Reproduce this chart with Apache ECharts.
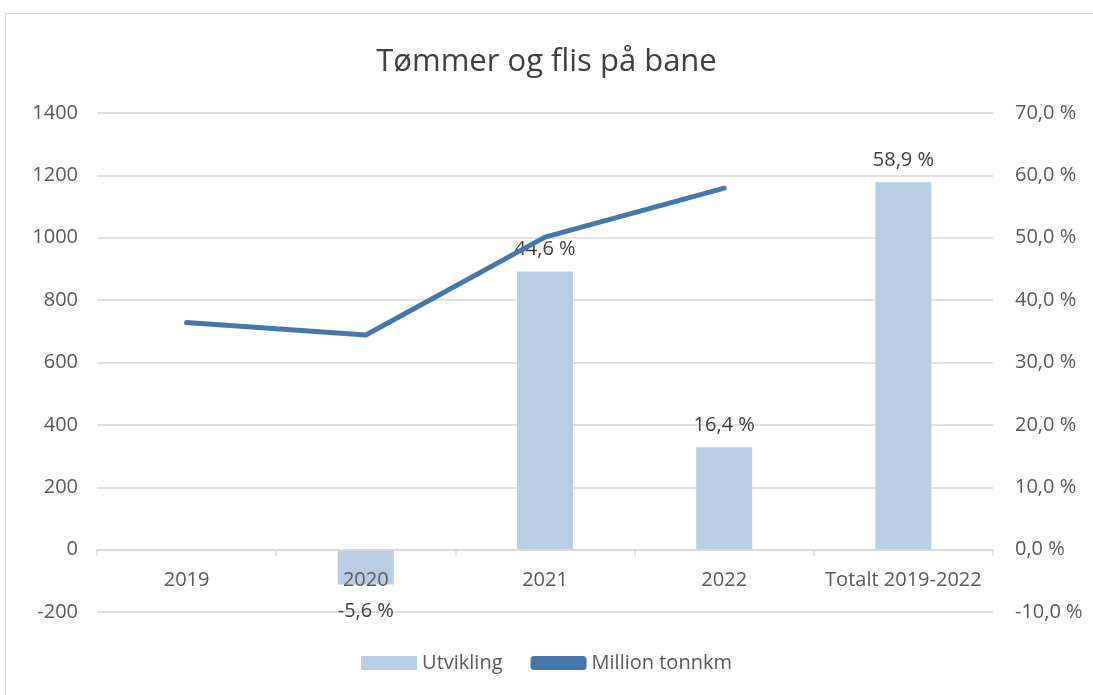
<!DOCTYPE html>
<html>
<head>
<meta charset="utf-8">
<script src="https://cdn.jsdelivr.net/npm/echarts@6/dist/echarts.min.js"></script>
<style>
  html, body { margin: 0; padding: 0; background: #fff; }
  #frame { position: absolute; left: 5px; top: 13px; width: 1100px; height: 700px; border: 1px solid #d9d9d9; box-sizing: border-box; }
  #chart { width: 1093px; height: 695px; position: absolute; left: 0; top: 0; }
</style>
</head>
<body>
<div id="frame"></div>
<div id="chart"></div>
<script>
  // kategorier og verdier lest av figuren
  const categories = ['2019', '2020', '2021', '2022', 'Totalt 2019-2022']
  const utvikling = [null, -5.6, 44.6, 16.4, 58.9]
  const millionTonnkm = [728, 688, 1002, 1159, null]

  const font = '"Open Sans", "Noto Sans", sans-serif'
  const pct = v => v.toFixed(1).replace('.', ',') + ' %'

  const option = {
    animation: false,
    textStyle: { fontFamily: font },
    title: {
      text: 'Tømmer og flis på bane',
      left: 'center',
      top: 42,
      textStyle: { fontFamily: font, fontSize: 31, fontWeight: 'normal', color: '#404040' }
    },
    legend: {
      bottom: 17,
      left: 'center',
      itemGap: 28,
      textStyle: { fontFamily: font, fontSize: 20, color: '#595959' },
      data: [
        { name: 'Utvikling', icon: 'rect', itemWidth: 52, itemHeight: 16 },
        { name: 'Million tonnkm', icon: 'roundRect', itemWidth: 57, itemHeight: 5 }
      ],
      itemWidth: 56,
      itemHeight: 14
    },
    grid: { left: 97, right: 100, top: 113, bottom: 83 },
    xAxis: {
      type: 'category',
      data: categories,
      z: 4,
      axisLine: { onZero: true, onZeroAxisIndex: 0, lineStyle: { color: '#d9d9d9', width: 1.5 } },
      axisTick: { show: true, length: 6, lineStyle: { color: '#d9d9d9', width: 1.5 } },
      // etikettene legges ved nettets underkant, så de flyttes opp til nullinjen
      axisLabel: { color: '#595959', fontSize: 20, margin: -42, interval: 0, hideOverlap: false }
    },
    yAxis: [
      {
        type: 'value',
        min: -200, max: 1400, interval: 200,
        axisLine: { show: false },
        axisTick: { show: false },
        axisLabel: { color: '#595959', fontSize: 20, margin: 19, formatter: v => String(v) },
        splitLine: { lineStyle: { color: '#d9d9d9', width: 1.5 } }
      },
      {
        type: 'value',
        min: -10, max: 70, interval: 10,
        axisLine: { show: false },
        axisTick: { show: false },
        splitLine: { show: false },
        axisLabel: { color: '#595959', fontSize: 20, margin: 22, formatter: v => pct(v) }
      }
    ],
    series: [
      {
        name: 'Utvikling',
        type: 'bar',
        yAxisIndex: 1,
        barWidth: 56,
        itemStyle: { color: '#b9cde5' },
        label: {
          show: true,
          position: 'top',
          distance: 12,
          color: '#404040',
          fontSize: 20,
          formatter: p => pct(p.value)
        },
        data: utvikling.map(v => v < 0
          ? { value: v, label: { position: 'bottom', distance: 17 } }
          : v)
      },
      {
        name: 'Million tonnkm',
        type: 'line',
        yAxisIndex: 0,
        symbol: 'none',
        lineStyle: { color: '#4677a8', width: 5, cap: 'round', join: 'round' },
        itemStyle: { color: '#4677a8' },
        z: 5,
        data: millionTonnkm
      }
    ]
  }

  const chart = echarts.init(document.getElementById('chart'), null, { renderer: 'canvas' })
  chart.setOption(option)
</script>
</body>
</html>
